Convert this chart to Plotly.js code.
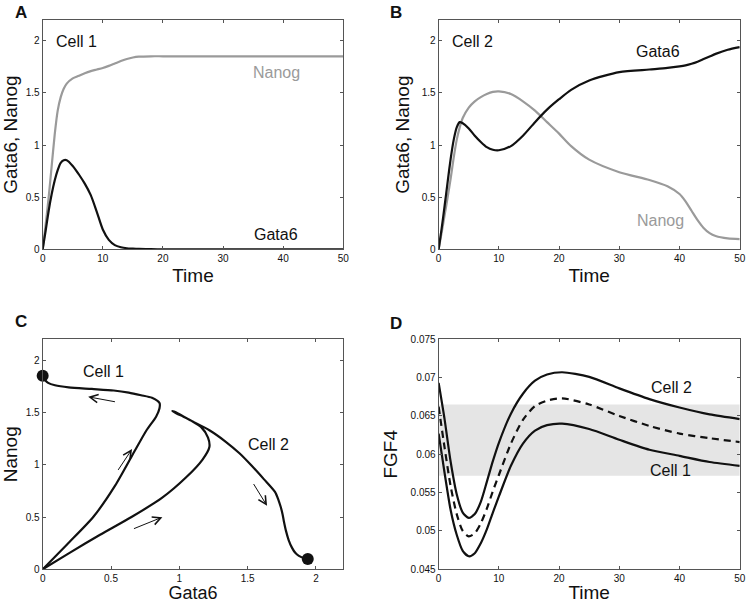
<!DOCTYPE html>
<html>
<head>
<meta charset="utf-8">
<script src="https://cdn.plot.ly/plotly-3.0.1.min.js"></script>
<style>html,body{margin:0;padding:0;background:#fff;} #chart{width:746px;height:603px;}</style>
</head>
<body>
<div id="chart"></div>
<script>
// ---- Panel A: Cell 1 time courses ----
var tA = [0,0.5,1,1.5,2,2.5,3,3.5,4,5,6,7,8,9,10,11,12,13,14,15,16,18,20,25,30,35,40,45,50];
var gata6A = [0,0.18,0.37,0.53,0.66,0.76,0.83,0.855,0.855,0.80,0.72,0.63,0.52,0.36,0.19,0.09,0.04,0.02,0.01,0.006,0.003,0.001,0,0,0,0,0,0,0];
var nanogA = [0,0.24,0.5,0.8,1.1,1.33,1.46,1.54,1.59,1.64,1.665,1.69,1.71,1.725,1.74,1.76,1.783,1.806,1.826,1.84,1.848,1.852,1.852,1.852,1.852,1.852,1.852,1.852,1.852];

// ---- Panel B: Cell 2 time courses ----
var tB = [0,0.5,1,1.5,2,2.5,3,3.5,4,5,6,7,8,9,10,12,14,16,18,20,22,25,30,35,38,40,41,42,43,44,45,46,48,50];
var gata6B = [0,0.2,0.42,0.65,0.87,1.05,1.17,1.22,1.21,1.16,1.09,1.03,0.98,0.955,0.95,0.99,1.09,1.22,1.34,1.44,1.53,1.62,1.70,1.725,1.74,1.755,1.765,1.78,1.80,1.825,1.85,1.875,1.915,1.94];
var nanogB = [0,0.16,0.33,0.5,0.68,0.88,1.05,1.17,1.26,1.36,1.42,1.46,1.49,1.51,1.515,1.49,1.42,1.33,1.22,1.11,0.99,0.86,0.74,0.665,0.605,0.53,0.46,0.37,0.28,0.205,0.155,0.128,0.105,0.098];

// ---- Panel D: FGF4 ----
var tD = [0,1,2,3,4,5,6,7,8,9,10,12,14,16,18,20.5,25,30,35,40,45,50];
var fgf4Cell2 = [0.0693,0.0645,0.059,0.0548,0.0524,0.0517,0.0522,0.0538,0.0564,0.0591,0.0615,0.0653,0.0679,0.0696,0.0704,0.0707,0.0701,0.0686,0.0672,0.0661,0.0652,0.0646];
var fgf4Mean  = [0.0662,0.0608,0.0558,0.0522,0.0500,0.0493,0.0497,0.0510,0.0529,0.0552,0.0573,0.0614,0.0645,0.0663,0.0670,0.0673,0.0665,0.0650,0.0637,0.0627,0.0621,0.0616];
var fgf4Cell1 = [0.0627,0.0575,0.0527,0.0495,0.0474,0.0467,0.0471,0.0484,0.0502,0.0524,0.0545,0.0585,0.0614,0.0631,0.0638,0.0640,0.0633,0.0619,0.0606,0.0598,0.0590,0.0585];
var fgf4Band = [0.0572, 0.0665];

// ---- tick labels ----
var tickTime = [0,10,20,30,40,50];
var tickConc = [0,0.5,1,1.5,2];
var tickConcText = ['0','0.5','1','1.5','2'];
var tickFGF = [0.045,0.05,0.055,0.06,0.065,0.07,0.075];
var tickFGFText = ['0.045','0.05','0.055','0.06','0.065','0.07','0.075'];

// ---- C arrows: [tailX, tailY, headX, headY] ----
var arrowsC = [
  [0.54,1.60,0.333,1.65],
  [0.545,0.936,0.654,1.15],
  [0.657,0.383,0.876,0.499],
  [1.537,0.83,1.642,0.607]
];

var BLACK = '#111111', GRAY = '#9a9a9a', AX = '#555555';
var FONT = 'Liberation Sans, Arial, Helvetica, sans-serif';
var lw = 2.2;

function L(x, y, xa, ya, color, dash) {
  return {x:x, y:y, xaxis:xa, yaxis:ya, type:'scatter', mode:'lines',
    line:{color:color, width:lw, shape:'spline', smoothing:0.7, dash:dash||'solid'},
    hoverinfo:'skip', showlegend:false};
}

var traces = [
  L(tA, nanogA, 'x', 'y', GRAY),
  L(tA, gata6A, 'x', 'y', BLACK),
  L(tB, nanogB, 'x2', 'y2', GRAY),
  L(tB, gata6B, 'x2', 'y2', BLACK),
  L(gata6A, nanogA, 'x3', 'y3', BLACK),
  L(gata6B, nanogB, 'x3', 'y3', BLACK),
  {x:[gata6A[gata6A.length-1], gata6B[gata6B.length-1]],
   y:[nanogA[nanogA.length-1], nanogB[nanogB.length-1]],
   xaxis:'x3', yaxis:'y3', type:'scatter', mode:'markers',
   marker:{color:BLACK, size:12}, cliponaxis:false, showlegend:false, hoverinfo:'skip'},
  L(tD, fgf4Cell2, 'x4', 'y4', BLACK),
  L(tD, fgf4Mean, 'x4', 'y4', BLACK, '7px,5px'),
  L(tD, fgf4Cell1, 'x4', 'y4', BLACK)
];

function axis(domain, range, anchor, tickvals, ticktext, title, standoff, tsize) {
  return {domain:domain, range:range, anchor:anchor, showline:true, linecolor:AX, linewidth:1,
    mirror:'ticks', ticks:'inside', ticklen:3, tickcolor:AX, tickwidth:1,
    showgrid:false, zeroline:false, fixedrange:true,
    tickvals:tickvals, ticktext:ticktext,
    tickfont:{family:FONT, size:10, color:'#111'},
    title:{text:title, font:{family:FONT, size:tsize||19, color:'#111'}, standoff:standoff}};
}

var xL = [0.0572, 0.4602], xR = [0.588, 0.9916];
var yT = [0.5866, 0.9668], yB = [0.0559, 0.4373];

function txt(x, y, xr, yr, s, color, anchor) {
  return {x:x, y:y, xref:xr, yref:yr, text:s, showarrow:false,
    xanchor:anchor||'center', yanchor:'middle',
    font:{family:FONT, size:16, color:color||'#111'}};
}
function letter(x, y, s) {
  return {x:x, y:y, xref:'paper', yref:'paper', text:'<b>'+s+'</b>', showarrow:false,
    xanchor:'center', yanchor:'middle', font:{family:FONT, size:17, color:'#111'}};
}

var annotations = [
  letter(0.0288, 0.979, 'A'), letter(0.531, 0.979, 'B'),
  letter(0.0288, 0.4668, 'C'), letter(0.5315, 0.4643, 'D'),
  txt(1.9, 1.99, 'x', 'y', 'Cell 1', '#111', 'left'),
  txt(38.9, 1.70, 'x', 'y', 'Nanog', GRAY),
  txt(38.8, 0.14, 'x', 'y', 'Gata6'),
  txt(1.9, 1.99, 'x2', 'y2', 'Cell 2', '#111', 'left'),
  txt(36.5, 1.90, 'x2', 'y2', 'Gata6'),
  txt(36.8, 0.28, 'x2', 'y2', 'Nanog', GRAY),
  txt(0.447, 1.895, 'x3', 'y3', 'Cell 1'),
  txt(1.65, 1.19, 'x3', 'y3', 'Cell 2'),
  txt(38.6, 0.06874, 'x4', 'y4', 'Cell 2'),
  txt(38.5, 0.05787, 'x4', 'y4', 'Cell 1')
];
arrowsC.forEach(function(a){
  annotations.push({x:a[2], y:a[3], ax:a[0], ay:a[1], xref:'x3', yref:'y3', axref:'x3', ayref:'y3',
    text:'', showarrow:true, arrowhead:5, arrowsize:1.6, arrowwidth:1, arrowcolor:'#111', standoff:0, startstandoff:0});
});

var layout = {
  width:746, height:603, margin:{l:0, r:0, t:0, b:0},
  paper_bgcolor:'#fff', plot_bgcolor:'#fff', showlegend:false,
  font:{family:FONT, color:'#111'},
  xaxis:  axis(xL, [0,50], 'y',  tickTime, null, 'Time', 5),
  yaxis:  axis(yT, [0,2.2], 'x', tickConc, tickConcText, 'Gata6, Nanog', 7),
  xaxis2: axis(xR, [0,50], 'y2', tickTime, null, 'Time', 5),
  yaxis2: axis(yT, [0,2.2], 'x2', tickConc, tickConcText, 'Gata6, Nanog', 7),
  xaxis3: axis(xL, [0,2.2], 'y3', tickConc, tickConcText, 'Gata6', 7, 18),
  yaxis3: axis(yB, [0,2.2], 'x3', tickConc, tickConcText, 'Nanog', 7),
  xaxis4: axis(xR, [0,50], 'y4', tickTime, null, 'Time', 5),
  yaxis4: axis(yB, [0.045,0.075], 'x4', tickFGF, tickFGFText, 'FGF4', 7),
  shapes:[{type:'rect', xref:'x4', yref:'y4', x0:tickTime[0], x1:tickTime[tickTime.length-1],
    y0:fgf4Band[0], y1:fgf4Band[1], fillcolor:'#e5e5e5', line:{width:0}, layer:'below'}],
  annotations:annotations
};

Plotly.newPlot('chart', traces, layout, {staticPlot:true, displayModeBar:false});
</script>
</body>
</html>
